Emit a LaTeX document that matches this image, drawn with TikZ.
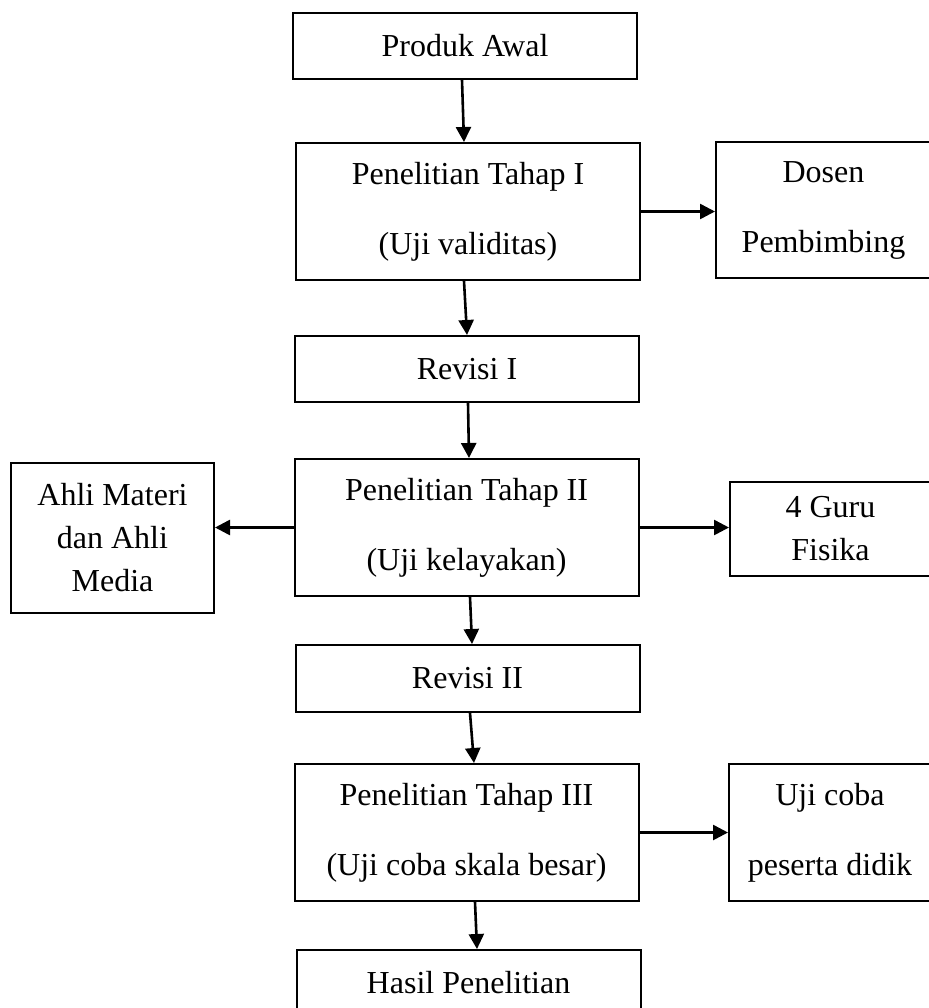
\documentclass[tikz,border=0pt]{standalone}
\usepackage{fontspec}
\setmainfont{Liberation Serif}
\usetikzlibrary{arrows.meta}

\begin{document}
\begin{tikzpicture}[x=0.5pt, y=-0.5pt]
	\tikzstyle{every node}=[inner sep=1pt, align=center, font=\fontsize{16}{21.5}\selectfont]
	\tikzstyle{kotak}=[draw, line width=1pt, minimum width=172pt]
	\tikzstyle{panah}=[-{Triangle[length=7.5pt, width=7.5pt]}, line width=1.3pt]
	\useasboundingbox (0, 0) rectangle (928, 1008);
	% kolom tengah
	\node[kotak, minimum height=33pt] (awal) at (465, 46) {Produk Awal};
	\node[kotak, minimum height=68.5pt] (tahapI) at (468, 211.5) {Penelitian Tahap I\\[13.5pt](Uji validitas)};
	\node[kotak, minimum height=33pt] (revisiI) at (467, 369) {Revisi I};
	\node[kotak, minimum height=68.5pt] (tahapII) at (466.5, 527.5) {Penelitian Tahap II\\[13.5pt](Uji kelayakan)};
	\node[kotak, minimum height=33.5pt] (revisiII) at (467.5, 678.5) {Revisi II};
	\node[kotak, minimum height=68.5pt] (tahapIII) at (466.5, 832.5) {Penelitian Tahap III\\[13.5pt](Uji coba skala besar)};
	\node[kotak, minimum height=33pt] (hasil) at (468.5, 983) {Hasil Penelitian};
	% kotak samping
	\node[kotak, minimum width=107.5pt, minimum height=68pt] (dosen) at (823.5, 210) {Dosen\\[13.5pt]Pembimbing};
	\node[kotak, minimum width=101.5pt, minimum height=75pt] (ahli) at (112.5, 538) {Ahli Materi\\dan Ahli\\Media};
	\node[kotak, minimum width=100.5pt, minimum height=47pt] (guru) at (830.5, 529) {4 Guru\\Fisika};
	\node[kotak, minimum width=101pt, minimum height=68.5pt] (ujicoba) at (830, 832.5) {Uji coba\\[13.5pt]peserta didik};
	% panah
	\draw [panah] ([xshift=-1.5pt]awal.south) -- ([xshift=-2pt]tahapI.north);
	\draw [panah] ([xshift=-2pt]tahapI.south) -- (revisiI.north);
	\draw [panah] ([xshift=0.5pt]revisiI.south) -- ([xshift=1.25pt]tahapII.north);
	\draw [panah] ([xshift=1.75pt]tahapII.south) -- ([xshift=2.25pt]revisiII.north);
	\draw [panah] ([xshift=1.25pt]revisiII.south) -- ([xshift=3.75pt]tahapIII.north);
	\draw [panah] ([xshift=4.25pt]tahapIII.south) -- ([xshift=4.25pt]hasil.north);
	\draw [panah] (tahapI.east) -- (tahapI.east -| dosen.west);
	\draw [panah] (tahapII.west) -- (tahapII.west -| ahli.east);
	\draw [panah] (tahapII.east) -- (tahapII.east -| guru.west);
	\draw [panah] (tahapIII.east) -- (tahapIII.east -| ujicoba.west);
\end{tikzpicture}
\end{document}
